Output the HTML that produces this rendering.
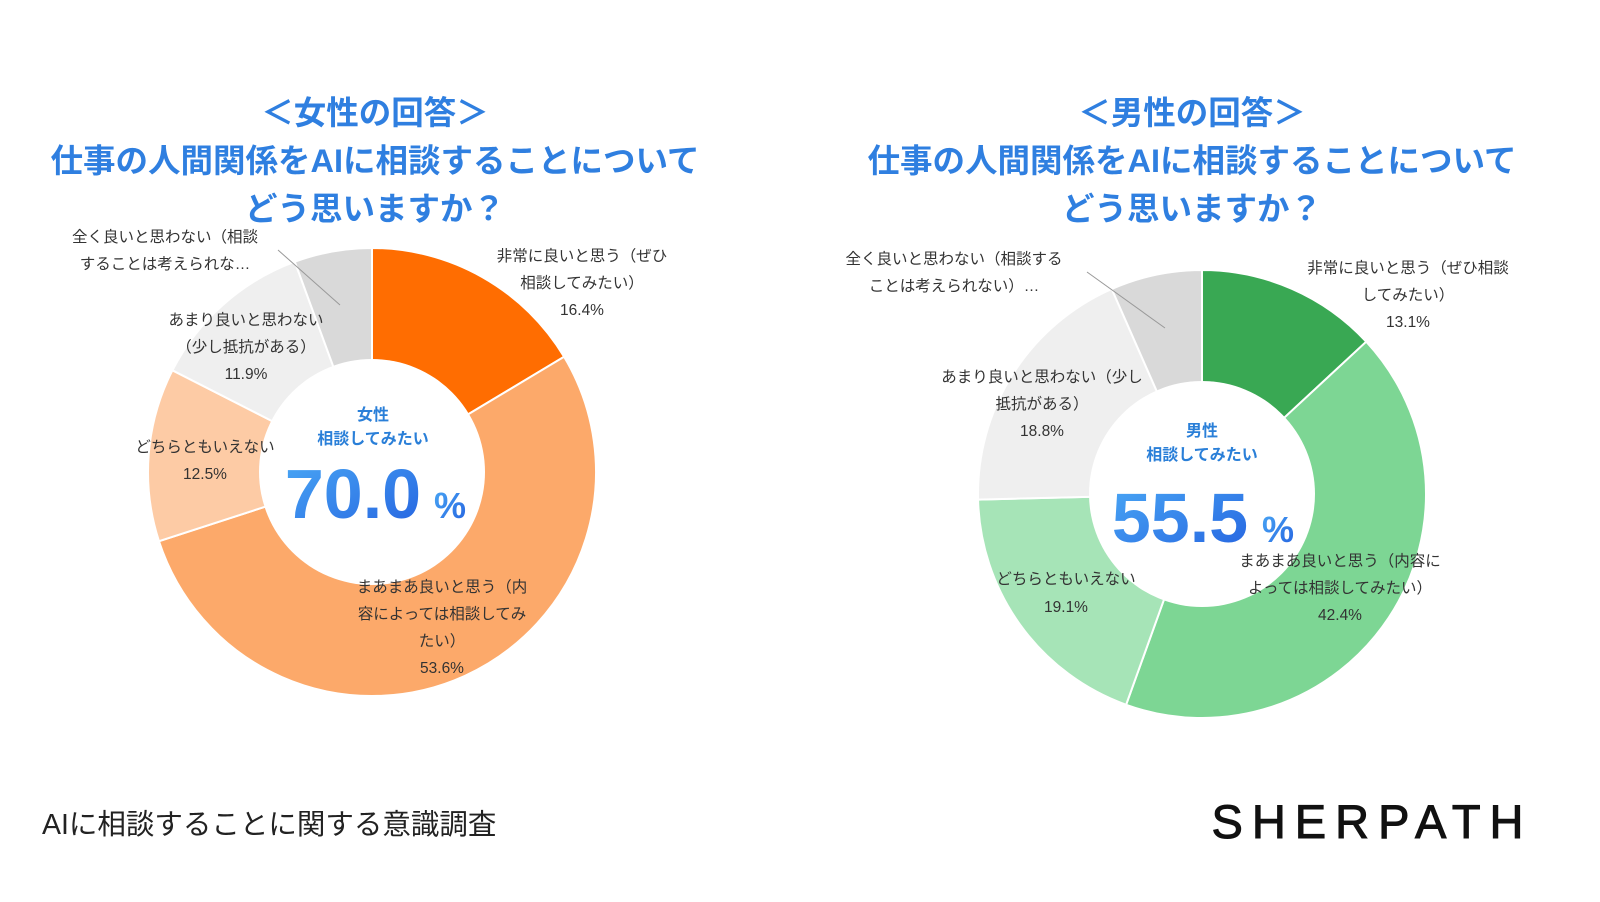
<!DOCTYPE html>
<html><head><meta charset="utf-8"><style>
body{margin:0;background:#fff;}
svg{display:block;}
text{font-family:"Liberation Sans","Noto Sans CJK JP",sans-serif;}
.t{fill:#2f7fe0;font-size:32.5px;font-weight:bold;text-anchor:middle;}
.l{fill:#333;font-size:15.5px;text-anchor:middle;}
.c{fill:#2a7fd8;font-size:16px;font-weight:bold;text-anchor:middle;}
</style></head><body>
<svg id="s" width="1600" height="902" viewBox="0 0 1600 902">
<defs><linearGradient id="g" x1="0" y1="0" x2="1" y2="1"><stop offset="0" stop-color="#4aa8f5"/><stop offset="1" stop-color="#2563e0"/></linearGradient></defs>
<g id="pies"></g>
<text class="t" x="375" y="124">＜女性の回答＞</text>
<text class="t" x="375" y="172">仕事の人間関係をAIに相談することについて</text>
<text class="t" x="375" y="220">どう思いますか？</text>
<text class="t" x="1192" y="124">＜男性の回答＞</text>
<text class="t" x="1192" y="172">仕事の人間関係をAIに相談することについて</text>
<text class="t" x="1192" y="220">どう思いますか？</text>

<text class="l" x="165" y="242">全く良いと思わない（相談</text>
<text class="l" x="165" y="269">することは考えられな…</text>
<line x1="278" y1="250" x2="340" y2="305" stroke="#999" stroke-width="1"/>
<text class="l" x="582" y="261">非常に良いと思う（ぜひ</text>
<text class="l" x="582" y="288">相談してみたい）</text>
<text class="l" x="582" y="315">16.4%</text>
<text class="l" x="246" y="325">あまり良いと思わない</text>
<text class="l" x="246" y="352">（少し抵抗がある）</text>
<text class="l" x="246" y="379">11.9%</text>
<text class="l" x="205" y="452">どちらともいえない</text>
<text class="l" x="205" y="479">12.5%</text>
<text class="l" x="442" y="592">まあまあ良いと思う（内</text>
<text class="l" x="442" y="619">容によっては相談してみ</text>
<text class="l" x="442" y="646">たい）</text>
<text class="l" x="442" y="673">53.6%</text>
<text class="c" x="373" y="420">女性</text>
<text class="c" x="373" y="444">相談してみたい</text>
<text x="353" y="518" fill="url(#g)" font-size="70" font-weight="bold" text-anchor="middle">70.0</text>
<text x="450" y="518" fill="url(#g)" font-size="36" font-weight="bold" text-anchor="middle">%</text>

<text class="l" x="954" y="264">全く良いと思わない（相談する</text>
<text class="l" x="954" y="291">ことは考えられない）…</text>
<line x1="1087" y1="272" x2="1165" y2="328" stroke="#999" stroke-width="1"/>
<text class="l" x="1408" y="273">非常に良いと思う（ぜひ相談</text>
<text class="l" x="1408" y="300">してみたい）</text>
<text class="l" x="1408" y="327">13.1%</text>
<text class="l" x="1042" y="382">あまり良いと思わない（少し</text>
<text class="l" x="1042" y="409">抵抗がある）</text>
<text class="l" x="1042" y="436">18.8%</text>
<text class="l" x="1066" y="584">どちらともいえない</text>
<text class="l" x="1066" y="612">19.1%</text>
<text class="l" x="1340" y="566">まあまあ良いと思う（内容に</text>
<text class="l" x="1340" y="593">よっては相談してみたい）</text>
<text class="l" x="1340" y="620">42.4%</text>
<text class="c" x="1202" y="436">男性</text>
<text class="c" x="1202" y="460">相談してみたい</text>
<text x="1180" y="542" fill="url(#g)" font-size="70" font-weight="bold" text-anchor="middle">55.5</text>
<text x="1278" y="542" fill="url(#g)" font-size="36" font-weight="bold" text-anchor="middle">%</text>

<text x="42" y="834" font-size="28.5" fill="#222">AIに相談することに関する意識調査</text>
<text x="1372" y="838" font-size="47" fill="#111" stroke="#111" stroke-width="1" text-anchor="middle" letter-spacing="9">SHERPATH</text>
</svg>
<script>
function pie(cx,cy,R,r,vals,cols){
 var g=document.getElementById('pies'),a=0,h='';
 for(var i=0;i<vals.length;i++){
  var a0=a*2*Math.PI/100-Math.PI/2;a+=vals[i];var a1=a*2*Math.PI/100-Math.PI/2;
  var L=vals[i]>50?1:0;
  h+='<path d="M'+(cx+R*Math.cos(a0))+' '+(cy+R*Math.sin(a0))+'A'+R+' '+R+' 0 '+L+' 1 '+(cx+R*Math.cos(a1))+' '+(cy+R*Math.sin(a1))+'L'+cx+' '+cy+'Z" fill="'+cols[i]+'" stroke="#fff" stroke-width="2"/>';
 }
 h+='<circle cx="'+cx+'" cy="'+cy+'" r="'+r+'" fill="#fff"/>';
 g.innerHTML+=h;
}
pie(372,472,224,113,[16.4,53.6,12.5,11.9,5.6],['#ff6d01','#fca96a','#fdcba5','#efefef','#d9d9d9']);
pie(1202,494,224,113,[13.1,42.4,19.1,18.8,6.6],['#39a853','#7dd694','#a6e4b7','#efefef','#d9d9d9']);
</script>
</body></html>
